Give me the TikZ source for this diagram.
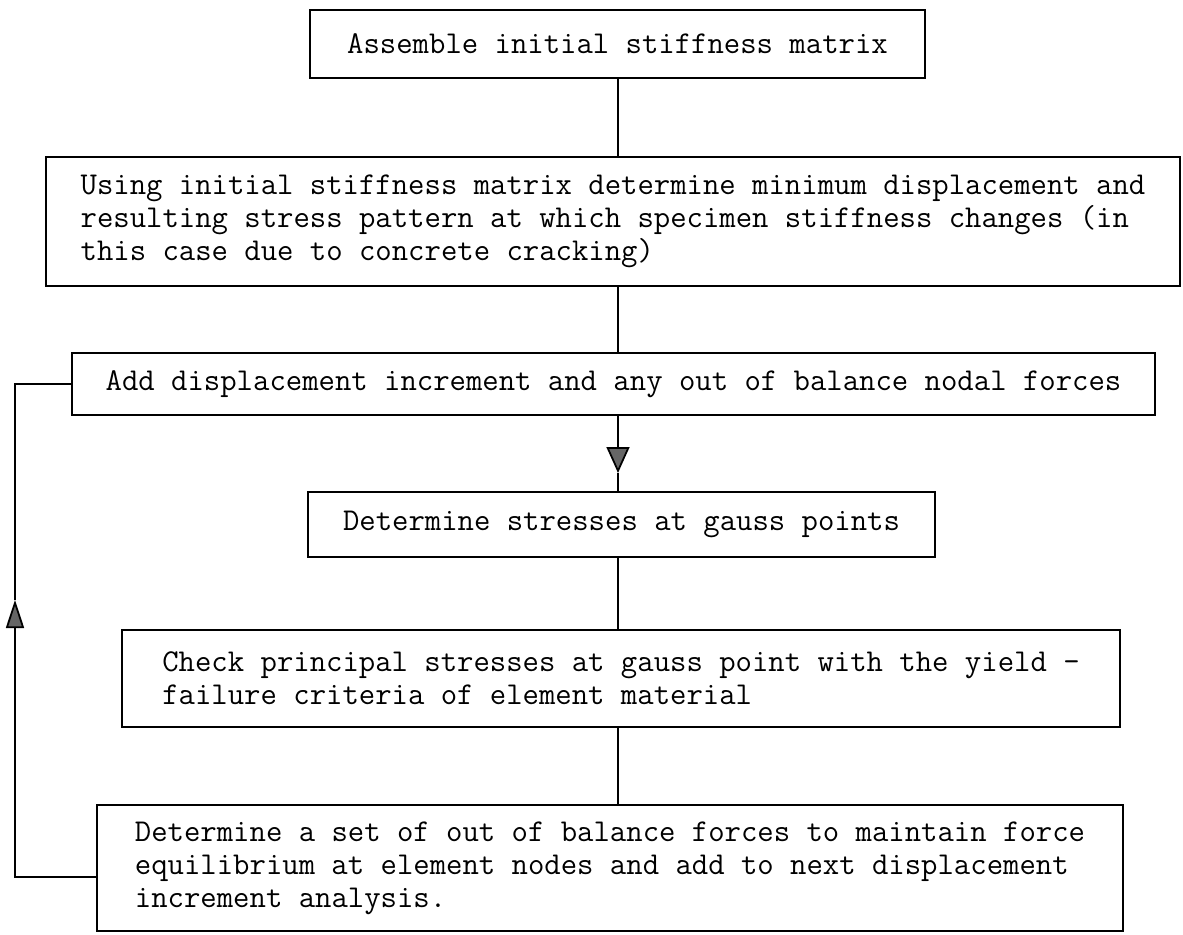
\documentclass[tikz,border=0pt]{standalone}
\usepackage{tikz}
\usetikzlibrary{arrows.meta}

\tikzset{
    stage/.style={draw, line width=1pt, align=left, inner sep=0.3cm,
        font=\fontsize{18.1}{18.8}\selectfont\ttfamily},
    downhead/.style={-{Triangle[width=0.46cm, length=0.52cm, fill=black!60]}},
    uphead/.style={-{Triangle[width=0.36cm, length=0.56cm, fill=black!60]}}
}

\begin{document}
\begin{tikzpicture}[line width=1pt]
        \useasboundingbox (0, 0) rectangle (23.66, -18.7);

        \node[stage, minimum width=12.3cm, minimum height=1.36cm] (asm) at (12.35, -0.88) {Assemble initial stiffness matrix};

        \node[stage, minimum width=22.68cm, minimum height=2.58cm] (init) at (12.26, -4.43) {Using initial stiffness matrix determine minimum displacement and\\resulting stress pattern at which specimen stiffness changes (in\\this case due to concrete cracking)};

        \node[stage, minimum width=21.66cm, minimum height=1.24cm] (incr) at (12.27, -7.68) {Add displacement increment and any out of balance nodal forces};

        \node[stage, minimum width=12.54cm, minimum height=1.3cm] (stress) at (12.43, -10.49) {Determine stresses at gauss points};

        \node[stage, minimum width=19.96cm, minimum height=1.94cm] (check) at (12.42, -13.57) {Check principal stresses at gauss point with the yield -\\failure criteria of element material};

        \node[stage, minimum width=20.52cm, minimum height=2.52cm] (unbal) at (12.2, -17.36) {Determine a set of out of balance forces to maintain force\\equilibrium at element nodes and add to next displacement\\increment analysis.};

        \coordinate (spine) at (12.36, 0);
        \coordinate (t1) at (12.36, -9.46);
        \coordinate (t2) at (0.3, -12);

        \draw (asm.south -| spine) -- (init.north -| spine);
        \draw (init.south -| spine) -- (incr.north -| spine);

        \draw[downhead] (incr.south -| t1) -- (t1);
        \draw (t1) -- (stress.north -| t1);

        \draw (stress.south -| spine) -- (check.north -| spine);
        \draw (check.south -| spine) -- (unbal.north -| spine);

        % loop back for the next increment
        \draw[uphead] ([yshift=-0.18cm]unbal.west) -| (t2);
        \draw (t2) |- (incr.west);
    \end{tikzpicture}
\end{document}
